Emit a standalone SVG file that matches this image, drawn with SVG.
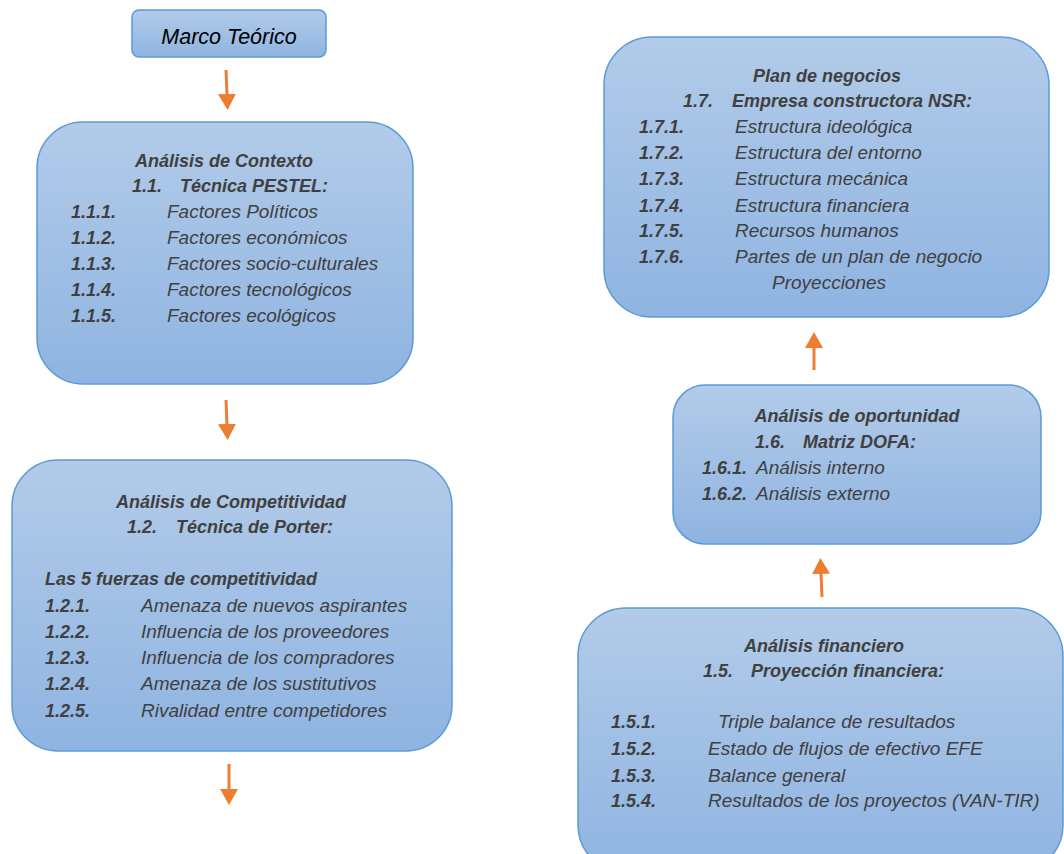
<svg xmlns="http://www.w3.org/2000/svg" width="1064" height="854" viewBox="0 0 1064 854">
<defs>
<linearGradient id="g" x1="0" y1="0" x2="0" y2="1">
<stop offset="0" stop-color="#b2cbe9"/>
<stop offset="1" stop-color="#8fb4e1"/>
</linearGradient>
<marker id="ah" markerUnits="userSpaceOnUse" markerWidth="17" markerHeight="18" refX="0" refY="9" orient="auto">
<path d="M0,0 L16,9 L0,18 z" fill="#ed7d31"/>
</marker>
<style>
.box{fill:url(#g);stroke:#5b9bd5;stroke-width:1.5}
text{font-family:"Liberation Sans",Arial,sans-serif;fill:#404040;font-style:italic}
.h{font-weight:bold;font-size:18px}
.n{font-weight:bold;font-size:18px}
.t{font-size:19px}
.c{text-anchor:middle}
.arr{stroke:#ed7d31;stroke-width:3;fill:none;marker-end:url(#ah)}
</style>
</defs>
<rect width="1064" height="854" fill="#ffffff"/>

<g id="connectors">
<line class="arr" x1="226" y1="70" x2="227" y2="94"/>
<line class="arr" x1="226" y1="400" x2="227" y2="424"/>
<line class="arr" x1="229" y1="764" x2="229" y2="789"/>
<line class="arr" x1="814" y1="370" x2="814" y2="348"/>
<line class="arr" x1="822" y1="597" x2="821" y2="574"/>
</g>

<g id="marco">
<rect class="box" x="132" y="10" width="194" height="47" rx="7"/>
<text x="229" y="44" class="c" style="font-size:21.5px;fill:#000">Marco Teórico</text>
</g>

<g id="contexto">
<rect class="box" x="37" y="122" width="376" height="262" rx="46"/>
<text x="224" y="167" class="h c">Análisis de Contexto</text>
<text x="132" y="192" class="h">1.1.</text>
<text x="180" y="192" class="h">Técnica PESTEL:</text>
<text x="71" y="218" class="n">1.1.1.</text><text x="167" y="218" class="t">Factores Políticos</text>
<text x="71" y="244" class="n">1.1.2.</text><text x="167" y="244" class="t">Factores económicos</text>
<text x="71" y="270" class="n">1.1.3.</text><text x="167" y="270" class="t">Factores socio-culturales</text>
<text x="71" y="296" class="n">1.1.4.</text><text x="167" y="296" class="t">Factores tecnológicos</text>
<text x="71" y="322" class="n">1.1.5.</text><text x="167" y="322" class="t">Factores ecológicos</text>
</g>

<g id="competitividad">
<rect class="box" x="12" y="460" width="440" height="291" rx="46"/>
<text x="231" y="508" class="h c">Análisis de Competitividad</text>
<text x="127" y="533" class="h">1.2.</text>
<text x="176" y="533" class="h">Técnica de Porter:</text>
<text x="45" y="585" class="h">Las 5 fuerzas de competitividad</text>
<text x="45" y="612" class="n">1.2.1.</text><text x="141" y="612" class="t">Amenaza de nuevos aspirantes</text>
<text x="45" y="638" class="n">1.2.2.</text><text x="141" y="638" class="t">Influencia de los proveedores</text>
<text x="45" y="664" class="n">1.2.3.</text><text x="141" y="664" class="t">Influencia de los compradores</text>
<text x="45" y="690" class="n">1.2.4.</text><text x="141" y="690" class="t">Amenaza de los sustitutivos</text>
<text x="45" y="717" class="n">1.2.5.</text><text x="141" y="717" class="t">Rivalidad entre competidores</text>
</g>

<g id="plan">
<rect class="box" x="604" y="37" width="445" height="280" rx="48"/>
<text x="827" y="82" class="h c">Plan de negocios</text>
<text x="683" y="107" class="h">1.7.</text>
<text x="732" y="107" class="h">Empresa constructora NSR:</text>
<text x="639" y="133" class="n">1.7.1.</text><text x="735" y="133" class="t">Estructura ideológica</text>
<text x="639" y="159" class="n">1.7.2.</text><text x="735" y="159" class="t">Estructura del entorno</text>
<text x="639" y="185" class="n">1.7.3.</text><text x="735" y="185" class="t">Estructura mecánica</text>
<text x="639" y="212" class="n">1.7.4.</text><text x="735" y="212" class="t">Estructura financiera</text>
<text x="639" y="237" class="n">1.7.5.</text><text x="735" y="237" class="t">Recursos humanos</text>
<text x="639" y="263" class="n">1.7.6.</text><text x="735" y="263" class="t">Partes de un plan de negocio</text>
<text x="772" y="289" class="t">Proyecciones</text>
</g>

<g id="oportunidad">
<rect class="box" x="673" y="385" width="368" height="159" rx="32"/>
<text x="857" y="422" class="h c">Análisis de oportunidad</text>
<text x="755" y="448" class="h">1.6.</text>
<text x="803" y="448" class="h">Matriz DOFA:</text>
<text x="702" y="474"><tspan class="n">1.6.1.</tspan><tspan class="t" x="756">Análisis interno</tspan></text>
<text x="702" y="500"><tspan class="n">1.6.2.</tspan><tspan class="t" x="756">Análisis externo</tspan></text>
</g>

<g id="financiero">
<rect class="box" x="578" y="608" width="485" height="265" rx="48"/>
<text x="824" y="652" class="h c">Análisis financiero</text>
<text x="703" y="677" class="h">1.5.</text>
<text x="751" y="677" class="h">Proyección financiera:</text>
<text x="611" y="728" class="n">1.5.1.</text><text x="718" y="728" class="t">Triple balance de resultados</text>
<text x="611" y="755" class="n">1.5.2.</text><text x="708" y="755" class="t">Estado de flujos de efectivo EFE</text>
<text x="611" y="782" class="n">1.5.3.</text><text x="708" y="782" class="t">Balance general</text>
<text x="611" y="807" class="n">1.5.4.</text><text x="708" y="807" class="t">Resultados de los proyectos (VAN-TIR)</text>
</g>
</svg>
